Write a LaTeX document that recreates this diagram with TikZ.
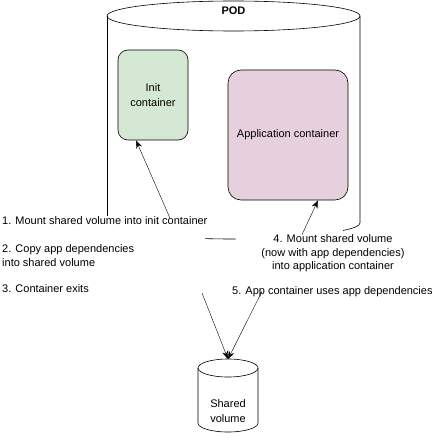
\documentclass[tikz,border=0pt]{standalone}
\usepackage{fontspec}
\setmainfont{Liberation Sans}
\usetikzlibrary{positioning,arrows.meta}
\definecolor{podInit}{HTML}{D5E8D4}
\definecolor{podApp}{HTML}{E6D0DE}
\definecolor{podLine}{HTML}{000000}

\begin{document}
\begin{tikzpicture}[
    x=1pt, y=1pt, yscale=-1,
    box/.style={draw=podLine, semithick, rounded corners=10pt, align=center, font=\fontsize{11}{15}\selectfont},
    stepnote/.style={inner sep=0pt, align=left, font=\fontsize{11}{14.5}\selectfont},
    arrow/.style={-{Stealth[length=8pt,width=6pt]}, thin, podLine},
    outline/.style={draw=podLine, semithick}
]
    \useasboundingbox (0,0) rectangle (435,441);

    % pod cylinder, bottom is hidden behind the notes
    \draw[outline] (233.5,16) ellipse[x radius=126.5, y radius=15];
    \draw[outline] (107,16) -- (107,216);
    \draw[outline] (360,16) -- (360,223) arc[start angle=0, end angle=30, x radius=126.5, y radius=15];
    \draw[outline] (233.5,224) ++(89:126.5 and 15) arc[start angle=89, end angle=103, x radius=126.5, y radius=15];
    \node[font=\fontsize{11}{13}\selectfont\bfseries] (pod) at (233.5,11) {POD};

    \node[box, fill=podInit, minimum width=70pt, minimum height=90pt] (init) at (153,95) {Init\\container};
    \node[box, fill=podApp, rounded corners=13pt, minimum width=120pt, minimum height=130pt] (app) at (288,135) {Application container};

    % shared volume
    \draw[outline] (228,368) ellipse[x radius=30, y radius=9];
    \draw[outline] (198,368) -- (198,423) arc[start angle=180, end angle=0, x radius=30, y radius=9] -- (258,368);
    \node[stepnote, align=center] (volume) at (228,411) {Shared\\volume};
    \coordinate (volTop) at (228,359);

    \node[stepnote, anchor=west] (step1) at (2,221) {1. Mount shared volume into init container};
    \node[stepnote, anchor=west] (step2) at (2,255.5) {2. Copy app dependencies\\into shared volume};
    \node[stepnote, anchor=west] (step3) at (2,289) {3. Container exits};
    \node[stepnote, align=center, font=\fontsize{11}{13.5}\selectfont] (step4) at (333,253.5) {4. Mount shared volume\\(now with app dependencies)\\into application container};
    \node[stepnote, anchor=west] (step5) at (232,292) {5. App container uses app dependencies};
    \coordinate (copyEnd) at (202,293);

    \draw[arrow] ([xshift=65pt,yshift=1pt]step1.north) -- ([xshift=-17pt]init.south);
    \draw[arrow] ([xshift=-31pt]step4.north) -- ([xshift=30pt]app.south);
    \draw[arrow] (copyEnd) -- (volTop);
    \draw[arrow] ([xshift=30pt,yshift=-6pt]step5.south west) -- (volTop);
\end{tikzpicture}
\end{document}
